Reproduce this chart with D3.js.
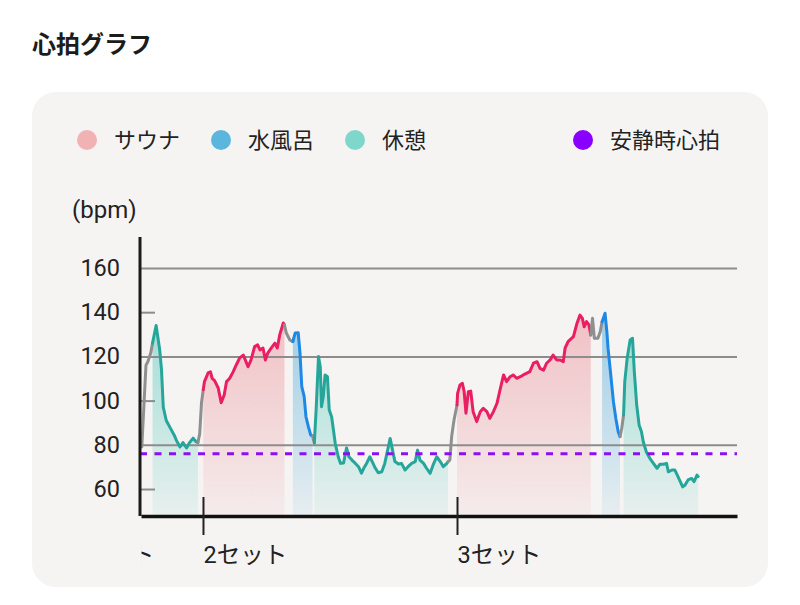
<!DOCTYPE html>
<html>
<head>
<meta charset="utf-8">
<script src="https://cdn.jsdelivr.net/npm/d3@7"></script>
<style>
  body { margin: 0; background: #fff; }
  svg { font-family: Roboto, "Noto Sans CJK JP", sans-serif; }
</style>
</head>
<body>
<script>
// heart rate samples: time (minutes) and bpm
var minutes = [0.3, 1.0, 1.3, 1.8, 2.1, 2.7, 3.3, 3.6, 3.9, 4.4, 5.2, 5.8, 6.1, 6.7, 7.2, 7.8, 8.3, 8.9, 9.4, 9.7,
  10.0, 10.3, 10.6, 10.8, 11.4, 11.8, 12.1, 12.5, 13.1, 13.6, 14.1, 14.5, 15.0, 15.6, 16.1, 16.7, 17.3, 17.5, 18.1, 18.6,
  19.2, 19.7, 20.1, 20.6, 21.0, 21.4, 22.0, 22.6, 23.0, 23.4, 24.0, 24.2, 24.5, 25.1, 25.6, 26.0, 26.5, 26.8, 27.1, 27.5,
  27.8, 28.2, 28.6, 28.9, 29.2, 29.5, 29.9, 30.2, 30.4, 30.7, 31.0, 31.4, 31.7, 32.1, 32.7, 33.2, 33.6, 34.1, 34.3, 34.6,
  35.0, 35.5, 36.0, 36.6, 37.1, 37.5, 38.0, 38.5, 39.0, 39.4, 39.9, 40.5, 41.0, 41.6, 41.9, 42.3, 42.7, 43.3, 43.8, 44.4,
  44.9, 45.5, 46.1, 46.5, 46.9, 47.5, 48.0, 48.6, 49.1, 49.7, 50.3, 50.8, 51.4, 51.6, 51.9, 52.2, 52.6, 53.1, 53.2, 53.6,
  54.0, 54.3, 54.6, 55.0, 55.4, 55.8, 56.4, 57.0, 57.5, 58.1, 58.6, 59.2, 59.8, 60.3, 60.9, 61.4, 62.0, 62.5, 63.1, 63.7,
  64.2, 64.8, 65.3, 65.9, 66.5, 67.0, 67.6, 68.1, 68.7, 69.2, 69.8, 70.4, 70.9, 71.2, 71.7, 72.6, 73.2, 73.7, 74.1, 74.4,
  74.8, 75.2, 75.5, 75.8, 76.1, 76.7, 77.1, 77.4, 77.9, 78.2, 78.4, 78.8, 79.3, 79.7, 80.1, 80.4, 80.7, 81.0, 81.2, 81.6,
  82.1, 82.5, 82.8, 83.2, 83.6, 84.0, 84.3, 84.8, 85.4, 86.0, 86.6, 87.1, 87.7, 88.2, 88.5, 89.1, 89.6, 90.0, 90.5, 90.9,
  91.3, 91.8, 92.4, 92.8, 93.3, 93.5];
var heartRate = [79, 116, 117.5, 121.5, 126, 134, 123, 114, 97, 91, 87, 84, 82, 79, 81, 78.6, 81, 83, 81.4, 81,
  85, 99, 105, 108.6, 112.5, 113, 110, 109, 105.7, 99, 102.5, 108.6, 110, 113, 116, 119.3, 120.6, 119.3, 115.3, 118.4,
  124.4, 125.2, 122.9, 123.8, 118.4, 121.5, 123.8, 126, 123.8, 129.7, 135.1, 134.2, 130.6, 127.4, 126.7, 130.6, 130.7, 121.5, 106.3, 101.8,
  92.7, 88.2, 84.4, 84, 80.8, 95.7, 119.9, 115.3, 97.2, 101.8, 111.6, 110.8, 95.7, 92.7, 80.7, 74.6, 71.6, 71.8, 74.6, 78.6,
  74.6, 73.1, 71.8, 70.1, 67.2, 69.5, 71.8, 74.6, 71.8, 69.5, 67.4, 67.8, 71.6, 79.1, 82.9, 77.6, 72.4, 71.3, 71.6, 68.6,
  70.1, 71.6, 72.4, 77.6, 73.1, 71.6, 69.4, 67.1, 70.9, 74.6, 72.4, 70.1, 71.6, 72.4, 73.1, 83.7, 91.2, 98, 103.3, 107.1,
  107.8, 104, 94.3, 104, 104.3, 95, 90.5, 95, 96.5, 95, 92, 95, 98.8, 104.8, 111.6, 108.6, 110.8, 111.6, 110.1, 110.8,
  111.6, 112.4, 113.1, 116.9, 117.6, 114.6, 113.8, 116.9, 118.4, 120.6, 118.4, 118.4, 117.6, 123.7, 126.7, 128.9, 135, 138.7, 137.2, 133.4,
  135.7, 134.2, 129.7, 137.2, 128.2, 128.2, 131.2, 135.7, 139.5, 131.2, 123.7, 113.1, 99.5, 92, 85.9, 83.7, 87.5, 93.5, 108.6, 119.1,
  127.4, 128.2, 113.1, 98, 89, 85.9, 81.4, 76.9, 73.9, 71.6, 69.4, 71.2, 71.2, 71.6, 67.8, 68.6, 68.6, 66.3, 63.3, 61,
  61.8, 64.1, 64.8, 63.3, 66.3, 65.6];

// phases: start time and kind
var phaseStart = [0.3, 2.1, 9.7, 10.6, 24.2, 25.6, 28.9, 29.2, 51.6, 53.1, 75.5, 77.4, 80.4, 81.0];
var phaseKind = ["move", "rest", "move", "sauna", "move", "water", "move", "rest", "move", "sauna", "move", "water", "move", "rest"];

var restingHR = 76;
var yTicks = [60, 80, 100, 120, 140, 160];
var gridTicks = [80, 120, 160];
var setTicks = [-11.7, 10.55, 53.1];
var setLabels = ["1セット", "2セット", "3セット"];
var legendKeys = ["sauna", "water", "rest", "resting"];
var legendNames = ["サウナ", "水風呂", "休憩", "安静時心拍"];

var lineColor = { move: "#8f8f8f", sauna: "#e91e63", water: "#1e88e5", rest: "#26a69a" };
var fillColor = { sauna: "#eeacb2", water: "#78bde0", rest: "#7cd3c8" };
var dotColor = { sauna: "#f0b2b2", water: "#5ab6dc", rest: "#7fd7cc", resting: "#8a00ff" };

var margin = { top: 237, right: 63, bottom: 89, left: 140 },
    width = 800 - margin.left - margin.right,
    height = 605 - margin.top - margin.bottom;

var xScale = d3.scaleLinear().domain([0, 100]).range([0, width]);
var yScale = d3.scaleLinear().domain([47.8, 174]).range([height, 0]);

var svg = d3.select("body").append("svg")
    .attr("width", 800)
    .attr("height", 605);

// title
svg.append("text")
    .attr("x", 32).attr("y", 45).attr("dy", "0.35em")
    .style("font-size", "24px").style("font-weight", "bold").attr("fill", "#1c1c1c")
    .style("font-family", "'Noto Sans CJK JP', sans-serif")
    .text("心拍グラフ");

// card
svg.append("rect")
    .attr("x", 32).attr("y", 92).attr("width", 736).attr("height", 495)
    .attr("rx", 24).attr("fill", "#f6f4f3");

// legend
var legendX = [87, 221, 355, 583];
legendKeys.forEach(function (k, i) {
    svg.append("circle").attr("cx", legendX[i]).attr("cy", 140).attr("r", 10).attr("fill", dotColor[k]);
    svg.append("text").attr("x", legendX[i] + 27).attr("y", 140).attr("dy", "0.35em")
        .style("font-size", "22px").attr("fill", "#222").text(legendNames[i]);
});

// unit label
svg.append("text").attr("x", 72).attr("y", 210).attr("dy", "0.35em")
    .style("font-size", "24px").attr("fill", "#222").text("(bpm)");

var g = svg.append("g").attr("transform", "translate(" + margin.left + "," + margin.top + ")");

// gradients for filled areas
var defs = svg.append("defs");
Object.keys(fillColor).forEach(function (k) {
    var grad = defs.append("linearGradient").attr("id", "grad-" + k)
        .attr("gradientUnits", "userSpaceOnUse")
        .attr("x1", 0).attr("x2", 0).attr("y1", yScale(160)).attr("y2", height);
    grad.append("stop").attr("offset", 0).attr("stop-color", fillColor[k]).attr("stop-opacity", 0.85);
    grad.append("stop").attr("offset", 1).attr("stop-color", fillColor[k]).attr("stop-opacity", 0.12);
});

var points = minutes.map(function (t, i) { return { t: t, v: heartRate[i] }; });

var segments = phaseKind.map(function (kind, i) {
    var t0 = phaseStart[i],
        t1 = i < phaseStart.length - 1 ? phaseStart[i + 1] : minutes[minutes.length - 1];
    return { kind: kind, pts: points.filter(function (p) { return p.t >= t0 && p.t <= t1; }) };
});

var area = d3.area()
    .x(function (d) { return xScale(d.t); })
    .y0(height)
    .y1(function (d) { return yScale(d.v); });

var line = d3.line()
    .x(function (d) { return xScale(d.t); })
    .y(function (d) { return yScale(d.v); });

// filled areas
g.selectAll(".area")
    .data(segments.filter(function (s) { return s.kind !== "move"; }))
    .enter().append("path")
    .attr("class", "area")
    .attr("d", function (s) { return area(s.pts); })
    .attr("fill", function (s) { return "url(#grad-" + s.kind + ")"; });

// gridlines
var grid = g.append("g")
    .call(d3.axisRight(yScale).tickValues(gridTicks).tickSize(width).tickFormat(""));
grid.select(".domain").remove();
grid.selectAll("line").attr("stroke", "#8c8c8c").attr("stroke-width", 2);

var minor = g.append("g")
    .call(d3.axisRight(yScale).tickValues(yTicks.filter(function (d) { return gridTicks.indexOf(d) < 0; }))
        .tickSize(15).tickFormat(""));
minor.select(".domain").remove();
minor.selectAll("line").attr("stroke", "#8c8c8c").attr("stroke-width", 2);

// y labels
var yAxis = g.append("g")
    .call(d3.axisLeft(yScale).tickValues(yTicks).tickSize(0).tickPadding(20));
yAxis.select(".domain").remove();
yAxis.selectAll("text").style("font-size", "23.5px").style("font-family", "Roboto, sans-serif")
    .attr("fill", "#222");

// heart rate line
g.selectAll(".hr")
    .data(segments)
    .enter().append("path")
    .attr("class", "hr")
    .attr("d", function (s) { return line(s.pts); })
    .attr("fill", "none")
    .attr("stroke", function (s) { return lineColor[s.kind]; })
    .attr("stroke-width", 3)
    .attr("stroke-linejoin", "round")
    .attr("stroke-linecap", "round");

// resting heart rate
g.append("line")
    .attr("x1", 0).attr("x2", width)
    .attr("y1", yScale(restingHR)).attr("y2", yScale(restingHR))
    .attr("stroke", "#8a10f0").attr("stroke-width", 3)
    .attr("stroke-dasharray", "7,7.5");

// y axis line
g.append("line").attr("x1", 0).attr("x2", 0).attr("y1", 0).attr("y2", height)
    .attr("stroke", "#1a1a1a").attr("stroke-width", 3);

// x axis, clipped at the y axis
defs.append("clipPath").attr("id", "xclip")
    .append("rect").attr("x", 1.5).attr("y", -30).attr("width", width + 10).attr("height", 80);

var xAxis = g.append("g")
    .attr("transform", "translate(0," + height + ")")
    .attr("clip-path", "url(#xclip)")
    .call(d3.axisBottom(xScale).tickValues(setTicks)
        .tickFormat(function (d, i) { return setLabels[i]; })
        .tickSize(19).tickSizeOuter(0));
xAxis.select(".domain").attr("stroke", "#111").attr("stroke-width", 3.5);
xAxis.selectAll(".tick line").attr("y1", -19).attr("y2", 19).attr("stroke", "#222").attr("stroke-width", 2);
xAxis.selectAll(".tick text")
    .attr("y", 39).attr("dy", "0.35em").attr("x", 0)
    .attr("text-anchor", "start")
    .style("font-size", "23.5px").style("font-family", "Roboto, 'Noto Sans CJK JP', sans-serif")
    .attr("fill", "#222");
</script>
</body>
</html>
